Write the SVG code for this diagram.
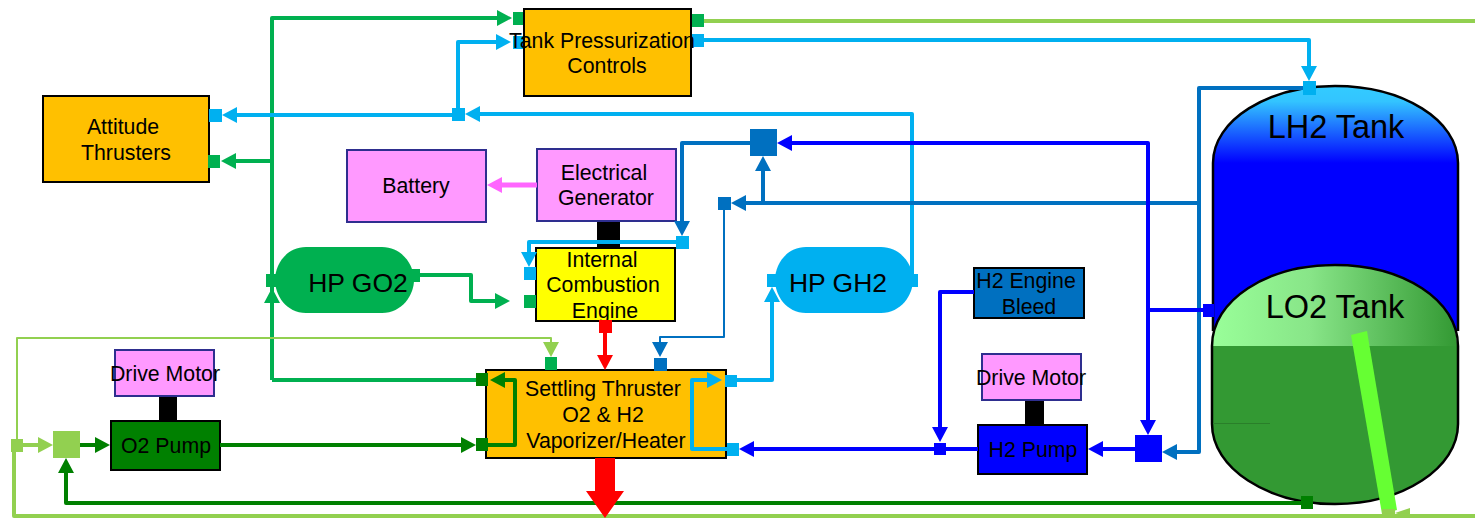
<svg xmlns="http://www.w3.org/2000/svg" width="1475" height="518" viewBox="0 0 1475 518">
<style>
text{font-family:"Liberation Sans",Arial,sans-serif;font-size:21.3px;fill:#000;text-anchor:middle}
.t32{font-size:32.5px}.t26{font-size:26.5px}
.box{stroke:#000;stroke-width:2}
.pk{fill:#ff99ff;stroke:#2e2e8f;stroke-width:2}
.or{fill:#ffc000}
.tk{fill:none;stroke:#000;stroke-width:2.5}
path.c{fill:none;stroke-width:4;stroke-linejoin:round}
.g{stroke:#00b050}.l{stroke:#00b0f0}.m{stroke:#0070c0}.b{stroke:#0000ff}.d{stroke:#008000}.n{stroke:#92d050}.r{stroke:#ff0000}.p{stroke:#ff66ff}
.fg{fill:#00b050}.fl{fill:#00b0f0}.fm{fill:#0070c0}.fb{fill:#0000ff}.fd{fill:#008000}.fn{fill:#92d050}.fr{fill:#ff0000}
</style>
<defs>
<marker id="ag" markerUnits="userSpaceOnUse" markerWidth="15" markerHeight="16" refX="2" refY="8" orient="auto"><path d="M0,0L15,8L0,16Z" fill="#00b050"/></marker>
<marker id="al" markerUnits="userSpaceOnUse" markerWidth="15" markerHeight="16" refX="2" refY="8" orient="auto"><path d="M0,0L15,8L0,16Z" fill="#00b0f0"/></marker>
<marker id="am" markerUnits="userSpaceOnUse" markerWidth="15" markerHeight="16" refX="2" refY="8" orient="auto"><path d="M0,0L15,8L0,16Z" fill="#0070c0"/></marker>
<marker id="ab" markerUnits="userSpaceOnUse" markerWidth="15" markerHeight="16" refX="2" refY="8" orient="auto"><path d="M0,0L15,8L0,16Z" fill="#0000ff"/></marker>
<marker id="ad" markerUnits="userSpaceOnUse" markerWidth="15" markerHeight="16" refX="2" refY="8" orient="auto"><path d="M0,0L15,8L0,16Z" fill="#008000"/></marker>
<marker id="an" markerUnits="userSpaceOnUse" markerWidth="15" markerHeight="16" refX="2" refY="8" orient="auto"><path d="M0,0L15,8L0,16Z" fill="#92d050"/></marker>
<marker id="ar" markerUnits="userSpaceOnUse" markerWidth="15" markerHeight="16" refX="2" refY="8" orient="auto"><path d="M0,0L15,8L0,16Z" fill="#ff0000"/></marker>
<marker id="ap" markerUnits="userSpaceOnUse" markerWidth="15" markerHeight="16" refX="2" refY="8" orient="auto"><path d="M0,0L15,8L0,16Z" fill="#ff66ff"/></marker>
<linearGradient id="lh" x1="0" y1="0" x2="0" y2="1"><stop offset="0" stop-color="#33ccff"/><stop offset="0.2" stop-color="#33c4ff"/><stop offset="1" stop-color="#0000ff"/></linearGradient>
<linearGradient id="lo" x1="0" y1="0" x2="1" y2="0"><stop offset="0" stop-color="#99ff99"/><stop offset="0.4" stop-color="#88e588"/><stop offset="1" stop-color="#339933"/></linearGradient>
</defs>

<g id="shafts" fill="#000">
<rect x="597" y="221" width="23" height="28"/>
<rect x="159" y="396" width="18" height="25"/>
<rect x="1025" y="400" width="19" height="25"/>
</g>

<g id="lh2-tank">
<rect x="1213" y="163" width="245" height="168" fill="#0000ff"/>
<path d="M1213,163C1213,120 1268,86 1335,86C1403,86 1458,120 1458,163Z" fill="url(#lh)"/>
<path class="tk" d="M1213,331V163C1213,120 1268,86 1335,86C1403,86 1458,120 1458,163V331"/>
<text class="t32" x="1336" y="138">LH2 Tank</text>
</g>
<g id="lo2-tank">
<path d="M1212,346V424C1212,468 1267,504 1335,504C1403,504 1458,468 1458,424V346Z" fill="#339933"/>
<path d="M1212,346C1212,300 1267,265 1335,265C1403,265 1457,300 1457,346Z" fill="url(#lo)"/>
<path class="tk" d="M1212,424C1212,468 1267,504 1335,504C1403,504 1458,468 1458,424V346C1458,300 1403,265 1335,265C1267,265 1212,300 1212,346Z" style="stroke-dasharray:none" stroke-linejoin="round"/>
<path d="M1213,423.500H1270" stroke="#2a7f2a" stroke-width="1" fill="none"/>
<text class="t32" x="1335" y="318">LO2 Tank</text>
</g>

<g id="attitude-thrusters"><rect class="box or" x="43" y="96" width="166" height="86"/><text x="123" y="134">Attitude</text><text x="126" y="160">Thrusters</text></g>
<g id="battery"><rect class="pk" x="347" y="150" width="139" height="72"/><text x="416" y="193">Battery</text></g>
<g id="electrical-generator"><rect class="pk" x="537" y="149" width="139" height="72"/><text x="604" y="180">Electrical</text><text x="606" y="205">Generator</text></g>
<g id="internal-combustion-engine"><rect class="box" fill="#ffff00" x="536" y="248" width="139" height="73"/><text x="602" y="267">Internal</text><text x="603" y="292">Combustion</text><text x="605" y="318">Engine</text></g>
<g id="hp-go2"><path d="M306,247H382C402,247 414,265 414,280C414,295 402,313 382,313H306C286,313 275,295 275,280C275,265 286,247 306,247Z" fill="#00b050"/><text class="t26" x="358" y="292">HP GO2</text></g>
<g id="hp-gh2"><path d="M806,247H881C901,247 913,265 913,280C913,295 901,313 881,313H806C786,313 775,295 775,280C775,265 786,247 806,247Z" fill="#00b0f0"/><text class="t26" x="838" y="292">HP GH2</text></g>
<g id="settling-thruster"><rect class="box or" x="486" y="370" width="240" height="88"/><text x="603" y="396">Settling Thruster</text><text x="603" y="422">O2 &amp; H2</text><text x="606" y="448">Vaporizer/Heater</text></g>
<g id="drive-motor-o2"><rect class="pk" x="115" y="350" width="99" height="46"/><text x="165" y="381">Drive Motor</text></g>
<g id="o2-pump"><rect class="box" fill="#008000" x="111" y="421" width="109" height="49"/><text x="166" y="453">O2 Pump</text></g>
<g id="drive-motor-h2"><rect class="pk" x="982" y="354" width="99" height="46"/><text x="1031" y="385">Drive Motor</text></g>
<g id="h2-pump"><rect class="box" fill="#0000ff" x="978" y="425" width="109" height="49"/><text x="1033" y="457">H2 Pump</text></g>
<g id="h2-engine-bleed"><rect class="box" fill="#0070c0" x="974" y="268" width="110" height="50"/><text x="1026" y="288">H2 Engine</text><text x="1029" y="314">Bleed</text></g>

<g id="connectors">
<path class="c g" d="M272,300V18H499" marker-end="url(#ag)"/>
<path class="c g" d="M272,380V301" marker-end="url(#ag)"/>
<path class="c g" d="M272,380H482"/>
<path class="c g" d="M272,161H234" marker-end="url(#ag)"/>
<path class="c g" d="M414,275H471V301H497" marker-end="url(#ag)"/>
<path class="c n" d="M700,21H1475"/>
<path class="c n" d="M14,446V516H1475"/>
<path class="c n" style="stroke-width:2" d="M17,440V338H551V344" marker-end="url(#an)"/>
<path class="c n" d="M20,445H40" marker-end="url(#an)"/>
<path class="c l" d="M912,275V114H478" marker-end="url(#al)"/>
<path class="c l" d="M458,115H235" marker-end="url(#al)"/>
<path class="c l" d="M458,110V42H498" marker-end="url(#al)"/>
<path class="c l" d="M700,40H1309V68" marker-end="url(#al)"/>
<path class="c l" d="M682,242H529V254" marker-end="url(#al)"/>
<path class="c l" d="M731,380H772V300" marker-end="url(#al)"/>
<path class="c l" d="M733,449H692V380H709" marker-end="url(#al)"/>
<path class="c m" d="M1303,88H1199V452H1175" marker-end="url(#am)"/>
<path class="c m" d="M1199,203H744" marker-end="url(#am)"/>
<path class="c m" d="M763,203V169" marker-end="url(#am)"/>
<path class="c m" d="M750,143H682V223" marker-end="url(#am)"/>
<path class="c m" style="stroke-width:2" d="M724,205V337H660V344" marker-end="url(#am)"/>
<path class="c b" d="M1148,312V143H790" marker-end="url(#ab)"/>
<path class="c b" d="M1148,310V422" marker-end="url(#ab)"/>
<path class="c b" d="M1148,310H1208"/>
<path class="c b" d="M1135,449H1101" marker-end="url(#ab)"/>
<path class="c b" d="M978,449H752" marker-end="url(#ab)"/>
<path class="c b" d="M974,292H940V429" marker-end="url(#ab)"/>
<path class="c d" d="M80,445H97" marker-end="url(#ad)"/>
<path class="c d" d="M220,445H463" marker-end="url(#ad)"/>
<path class="c d" d="M482,445H515V380H503" marker-end="url(#ad)"/>
<path class="c d" d="M1307,503H66V471" marker-end="url(#ad)"/>
<path class="c r" d="M605,326V357" marker-end="url(#ar)"/>
<path class="c p" style="stroke-width:5" d="M537,185H500" marker-end="url(#ap)"/>
<polygon class="fr" points="595,458 615,458 615,491 624,491 605,518 586,491 595,491"/>
<polygon points="1351,335 1367,331 1397,510 1382,514" fill="#66ff33"/>
<g id="junctions">
<rect class="fg" x="513" y="12" width="11" height="13"/>
<rect class="fl" x="513" y="36" width="11" height="13"/>
<rect class="fg" x="691" y="14" width="13" height="13"/>
<rect class="fl" x="691" y="34" width="13" height="13"/>
<rect class="fl" x="1303" y="81" width="13" height="14"/>
<rect class="fl" x="209" y="109" width="13" height="13"/>
<rect class="fg" x="208" y="155" width="12" height="13"/>
<rect class="fl" x="452" y="108" width="13" height="13"/>
<rect class="fm" x="750" y="129" width="27" height="27"/>
<rect class="fm" x="718" y="197" width="13" height="13"/>
<rect class="fl" x="676" y="236" width="13" height="13"/>
<rect class="fl" x="524" y="267" width="12" height="13"/>
<rect class="fg" x="524" y="295" width="12" height="13"/>
<rect class="fg" x="266" y="274" width="11" height="13"/>
<rect class="fg" x="409" y="269" width="11" height="13"/>
<rect class="fl" x="767" y="274" width="11" height="13"/>
<rect class="fl" x="908" y="274" width="10" height="13"/>
<rect class="fr" x="599" y="320" width="13" height="13"/>
<rect class="fg" x="545" y="357" width="12" height="13"/>
<rect class="fm" x="654" y="358" width="13" height="13"/>
<rect class="fd" x="476" y="373" width="12" height="13"/>
<rect class="fd" x="476" y="438" width="12" height="13"/>
<rect class="fl" x="725" y="375" width="12" height="12"/>
<rect class="fl" x="727" y="443" width="12" height="13"/>
<rect class="fb" x="934" y="443" width="12" height="12"/>
<rect class="fb" x="1135" y="435" width="27" height="27"/>
<rect class="fb" x="1203" y="304" width="11" height="13"/>
<rect class="fd" x="1301" y="496" width="12" height="13"/>
<rect class="fn" x="1382" y="509" width="13" height="9"/>
<polygon class="fn" points="1395,513 1410,508 1410,518"/>
<rect class="fn" x="11" y="439" width="12" height="13"/>
<rect class="fn" x="53" y="431" width="27" height="27"/>
</g>
</g>

<g id="tank-pressurization-controls"><rect class="box or" x="524" y="9" width="167" height="87"/><text x="602" y="48">Tank Pressurization</text><text x="607" y="73">Controls</text></g>
</svg>
